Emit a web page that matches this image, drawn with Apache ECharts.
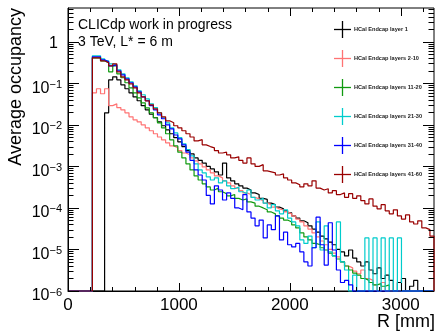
<!DOCTYPE html>
<html>
<head>
<meta charset="utf-8">
<script src="https://cdn.jsdelivr.net/npm/echarts@6/dist/echarts.min.js"></script>
<style>
  html, body { margin: 0; padding: 0; background: #fff; }
  #chart { width: 437px; height: 332px; }
</style>
</head>
<body>
<div id="chart"></div>
<script>
// Radial binning: 90 bins over 0..3300 mm; the arrays below start at bin 6 (R = 220 mm).
const rMax = 3300;
const nBins = 90;
const firstBin = 6;

const seriesNames = [
  'HCal Endcap layer 1',
  'HCal Endcap layers 2-10',
  'HCal Endcap layers 11-20',
  'HCal Endcap layers 21-30',
  'HCal Endcap layers 31-40',
  'HCal Endcap layers 41-60'
];
const seriesColors = ['#000000', '#ff7373', '#109a10', '#00cccc', '#0000ff', '#990000'];

// Average occupancy per bin (0 = empty bin)
const layer1 = [
  0, 0, 0, 0.0195, 0.121, 0.143, 0.121, 0.092, 0.074, 0.059,
  0.047, 0.038, 0.029, 0.023, 0.018, 0.0148, 0.0118, 9.5e-3, 7.6e-3, 6.1e-3,
  4.9e-3, 3.9e-3, 3.0e-3, 2.4e-3, 2.0e-3, 1.6e-3, 1.4e-3, 1.2e-3, 1.0e-3, 8.7e-4,
  7.4e-4, 6.2e-4, 1.2e-3, 5.3e-4, 4.5e-4, 3.8e-4, 3.4e-4, 3.0e-4, 2.7e-4, 2.3e-4,
  2.1e-4, 1.7e-4, 1.6e-4, 1.3e-4, 1.2e-4, 1.05e-4, 9.5e-5, 8.5e-5, 7.6e-5, 6.4e-5,
  5.7e-5, 4.9e-5, 4.4e-5, 3.7e-5, 3.1e-5, 2.6e-5, 2.1e-5, 1.8e-5, 1.5e-5, 1.3e-5,
  1.0e-5, 8.7e-6, 7.0e-6, 9.7e-6, 6.2e-6, 5.0e-6, 4.0e-6, 5.0e-6, 3.2e-6, 2.6e-6,
  3.6e-6, 2.0e-6, 2.4e-6, 1.8e-6, 0, 1.6e-6, 2.0e-6, 0, 1.3e-6, 1.8e-6,
  0, 0, 0, 0
];
const layers2to10 = [
  0.059, 0.074, 0.056, 0.074, 0.029, 0.032, 0.026, 0.023, 0.0195, 0.0156,
  0.0132, 0.0118, 0.0100, 8.5e-3, 7.2e-3, 6.1e-3, 5.1e-3, 4.35e-3, 3.7e-3, 3.1e-3,
  2.8e-3, 2.4e-3, 2.1e-3, 1.9e-3, 1.6e-3, 1.35e-3, 1.15e-3, 9.7e-4, 8.2e-4, 7.0e-4,
  5.9e-4, 5.3e-4, 4.5e-4, 4.0e-4, 3.4e-4, 3.0e-4, 2.6e-4, 2.3e-4, 2.1e-4, 1.8e-4,
  1.65e-4, 1.5e-4, 1.3e-4, 1.2e-4, 1.05e-4, 9.5e-5, 9.0e-5, 8.0e-5, 7.2e-5, 6.4e-5,
  5.4e-5, 4.6e-5, 3.7e-5, 3.1e-5, 2.5e-5, 2.0e-5, 1.6e-5, 1.3e-5, 1.0e-5, 8.2e-6,
  6.6e-6, 5.0e-6, 4.0e-6, 3.6e-6, 3.0e-6, 2.6e-6, 3.2e-6, 2.0e-6, 1.8e-6, 1.4e-6,
  0, 1.6e-6, 0, 0, 0, 0, 0, 0, 0, 0,
  0, 0, 0, 0
];
const layers11to20 = [
  0.411, 0.411, 0.348, 0.312, 0.189, 0.264, 0.169, 0.136, 0.103, 0.078,
  0.059, 0.0447, 0.0339, 0.0257, 0.0195, 0.0148, 0.0112, 8.5e-3, 6.1e-3, 4.35e-3,
  3.1e-3, 2.2e-3, 1.6e-3, 1.15e-3, 8.2e-4, 5.9e-4, 4.7e-4, 3.8e-4, 3.2e-4, 2.7e-4,
  3.0e-4, 2.45e-4, 2.2e-4, 1.95e-4, 2.1e-4, 1.7e-4, 1.55e-4, 1.65e-4, 1.4e-4, 1.3e-4,
  1.1e-4, 1.0e-4, 9.0e-5, 8.0e-5, 7.2e-5, 6.4e-5, 5.7e-5, 5.1e-5, 4.6e-5, 3.9e-5,
  3.3e-5, 2.5e-5, 2.0e-5, 1.7e-5, 1.4e-5, 1.3e-5, 1.1e-5, 9.7e-6, 8.2e-6, 7.0e-6,
  5.9e-6, 5.0e-6, 4.0e-6, 3.2e-6, 2.7e-6, 2.4e-6, 2.0e-6, 1.8e-6, 1.6e-6, 1.4e-6,
  1.5e-6, 1.3e-6, 1.4e-6, 0, 0, 0, 0, 0, 0, 0,
  0, 0, 0, 0
];
const layers21to30 = [
  0.46, 0.46, 0.389, 0.348, 0.295, 0.279, 0.212, 0.169, 0.136, 0.109,
  0.087, 0.066, 0.053, 0.042, 0.032, 0.026, 0.0195, 0.0148, 0.0112, 8.5e-3,
  6.4e-3, 4.9e-3, 3.5e-3, 2.55e-3, 1.8e-3, 1.15e-3, 8.2e-4, 7.0e-4, 5.6e-4, 4.7e-4,
  5.3e-4, 4.0e-4, 4.5e-4, 3.4e-4, 2.9e-4, 3.2e-4, 2.45e-4, 2.2e-4, 2.7e-4, 1.8e-4,
  1.55e-4, 1.7e-4, 1.3e-4, 1.0e-4, 1.2e-4, 8.5e-5, 7.2e-5, 9.0e-5, 5.7e-5, 4.6e-5,
  3.7e-5, 1.7e-5, 1.4e-5, 2.1e-5, 1.1e-5, 4.6e-5, 9.7e-6, 3.7e-5, 8.7e-6, 7.0e-6,
  4.6e-5, 5.0e-6, 3.2e-6, 0, 2.4e-6, 0, 0, 1.9e-5, 0, 1.9e-5,
  0, 1.9e-5, 0, 1.9e-5, 0, 1.9e-5, 0, 0, 0, 0,
  0, 0, 0, 0
];
const layers31to40 = [
  0.435, 0.435, 0.368, 0.330, 0.264, 0.279, 0.200, 0.160, 0.128, 0.103,
  0.082, 0.062, 0.047, 0.038, 0.029, 0.023, 0.0174, 0.0140, 0.0100, 8.0e-3,
  5.7e-3, 4.6e-3, 3.3e-3, 2.2e-3, 1.4e-3, 8.2e-4, 6.2e-4, 4.7e-4, 2.0e-4, 1.25e-4,
  3.4e-4, 2.7e-4, 1.55e-4, 2.3e-4, 1.7e-4, 1.0e-4, 9.0e-5, 2.1e-4, 8.0e-5, 5.7e-5,
  3.7e-5, 5.1e-5, 1.9e-5, 3.9e-5, 3.0e-5, 6.4e-5, 1.7e-5, 2.6e-5, 1.3e-5, 1.15e-5,
  1.4e-5, 8.7e-6, 5.0e-6, 4.0e-6, 1.1e-5, 6.0e-5, 1.3e-5, 4.2e-6, 4.4e-5, 9.7e-6,
  3.2e-6, 1.6e-6, 1.8e-6, 1.4e-6, 0, 0, 0, 0, 0, 0,
  0, 0, 0, 0, 0, 0, 0, 0, 0, 0,
  0, 0, 0, 0
];
const layers41to60 = [
  0.411, 0.411, 0.348, 0.312, 0.264, 0.295, 0.189, 0.143, 0.121, 0.0973,
  0.078, 0.059, 0.0473, 0.0379, 0.0303, 0.0243, 0.0195, 0.0156, 0.0125, 0.0112,
  9.5e-3, 8.5e-3, 7.2e-3, 6.1e-3, 5.1e-3, 4.1e-3, 4.4e-3, 3.3e-3, 3.0e-3, 2.8e-3,
  2.4e-3, 2.1e-3, 2.2e-3, 1.9e-3, 1.6e-3, 1.7e-3, 1.4e-3, 1.2e-3, 1.6e-3, 1.15e-3,
  1.0e-3, 1.1e-3, 7.8e-4, 7.4e-4, 7.0e-4, 6.2e-4, 6.6e-4, 5.3e-4, 4.7e-4, 4.0e-4,
  3.6e-4, 3.2e-4, 3.8e-4, 3.4e-4, 4.5e-4, 3.0e-4, 2.7e-4, 2.9e-4, 2.3e-4, 2.6e-4,
  2.1e-4, 2.3e-4, 1.8e-4, 2.2e-4, 1.7e-4, 1.95e-4, 1.5e-4, 1.25e-4, 1.65e-4, 1.1e-4,
  9.5e-5, 1.2e-4, 8.5e-5, 7.2e-5, 9.0e-5, 6.4e-5, 5.4e-5, 6.8e-5, 4.6e-5, 4.1e-5,
  4.9e-5, 3.3e-5, 3.0e-5, 2.1e-5
];
const seriesValues = [layer1, layers2to10, layers11to20, layers21to30, layers31to40, layers41to60];

const yMin = 1e-6, yMax = 6.5;
const xTickLabels = [0, 1000, 2000, 3000];

const binW = rMax / nBins;
const edge = (i) => i * binW;

// Histogram outline as step points at bin edges; empty bins sit on the frame floor
function histPoints(vals) {
  const pts = [[0, yMin]];
  vals.forEach((v, k) => pts.push([edge(firstBin + k), v > 0 ? v : yMin]));
  pts.push([edge(firstBin + vals.length), yMin]);
  return pts;
}

// Tick marks on all four frame sides, pointing inward
const tickItems = [];
for (let e = -6; e <= 0; e++) {
  const base = Math.pow(10, e);
  tickItems.push([0, base, 0, 11]);
  for (let k = 2; k <= 9; k++) {
    if (k * base < yMax) tickItems.push([0, k * base, 0, 5.5]);
  }
}
for (let r = 0; r <= rMax; r += 200) tickItems.push([r, 1, 1, r % 1000 === 0 ? 8 : 4]);

const chart = echarts.init(document.getElementById('chart'), null, { renderer: 'canvas' });

const font = '"Liberation Sans", Arial, Helvetica, sans-serif';

const lineSeries = seriesValues.map((vals, i) => ({
  name: seriesNames[i],
  type: 'line',
  step: 'end',
  data: histPoints(vals),
  showSymbol: false,
  clip: false,
  silent: true,
  z: 2 + i,
  lineStyle: { color: seriesColors[i], width: 1.2 },
  itemStyle: { color: seriesColors[i] }
}));

const tickSeries = {
  type: 'custom',
  silent: true,
  z: 20,
  clip: false,
  encode: { x: 0, y: 1 },
  data: tickItems,
  renderItem: (params, api) => {
    const kind = api.value(2), len = api.value(3);
    const st = { stroke: '#000', lineWidth: 1 };
    if (kind === 0) {
      const a = api.coord([0, api.value(1)]);
      const b = api.coord([rMax, api.value(1)]);
      const y = Math.round(a[1]) + 0.5;
      return { type: 'group', children: [
        { type: 'line', shape: { x1: a[0], y1: y, x2: a[0] + len, y2: y }, style: st },
        { type: 'line', shape: { x1: b[0], y1: y, x2: b[0] - len, y2: y }, style: st }
      ]};
    }
    const lo = api.coord([api.value(0), yMin]);
    const hi = api.coord([api.value(0), yMax]);
    const x = Math.round(lo[0]) + 0.5;
    return { type: 'group', children: [
      { type: 'line', shape: { x1: x, y1: lo[1], x2: x, y2: lo[1] - len }, style: st },
      { type: 'line', shape: { x1: x, y1: hi[1], x2: x, y2: hi[1] + len }, style: st }
    ]};
  }
};

// Legend: colored crosses with small bold labels
const legendGraphics = [];
seriesNames.forEach((name, i) => {
  const cy = 29.5 + 29 * i;
  legendGraphics.push(
    { type: 'line', shape: { x1: 334, y1: cy, x2: 351, y2: cy }, style: { stroke: seriesColors[i], lineWidth: 1.3 } },
    { type: 'line', shape: { x1: 342.5, y1: cy - 8.5, x2: 342.5, y2: cy + 8.5 }, style: { stroke: seriesColors[i], lineWidth: 1.3 } },
    { type: 'text', x: 354, y: cy, style: { text: name, font: 'bold 5.6px ' + font, fill: '#1a1a1a', align: 'left', verticalAlign: 'middle' } }
  );
});

chart.setOption({
  animation: false,
  backgroundColor: '#fff',
  grid: { left: 68, right: 2, top: 8, bottom: 41, show: true, borderColor: '#000', borderWidth: 1, backgroundColor: 'transparent' },
  xAxis: {
    type: 'value', min: 0, max: rMax, interval: 1000,
    axisLine: { show: true, lineStyle: { color: '#000', width: 1 } },
    axisTick: { show: false },
    splitLine: { show: false },
    axisLabel: {
      margin: 6, color: '#000', fontSize: 17, fontFamily: font,
      formatter: (v) => (xTickLabels.indexOf(v) >= 0 ? String(v) : '')
    }
  },
  yAxis: {
    type: 'log', logBase: 10, min: yMin, max: yMax, splitNumber: 7,
    axisLine: { show: true, lineStyle: { color: '#000', width: 1 } },
    axisTick: { show: false },
    splitLine: { show: false },
    axisLabel: {
      margin: 6, color: '#000', fontFamily: font, padding: [10, 0, 0, 0],
      formatter: (v) => {
        const e = Math.log10(v), r = Math.round(e);
        if (Math.abs(e - r) > 1e-6) return '';
        if (r === 0) return '{one|1}';
        return '{b|10}{s|\u2212' + (-r) + '}';
      },
      rich: {
        b: { fontSize: 16, fontFamily: font, color: '#000', lineHeight: 18 },
        s: { fontSize: 11, fontFamily: font, color: '#000', verticalAlign: 'top', lineHeight: 12 },
        one: { fontSize: 16, fontFamily: font, color: '#000', padding: [0, 4, 6, 0], lineHeight: 18 }
      }
    }
  },
  graphic: [
    { type: 'text', x: 78, y: 25, style: { text: 'CLICdp work in progress', font: '14px ' + font, fill: '#000', align: 'left', verticalAlign: 'middle' } },
    { type: 'text', x: 78, y: 42, style: { text: '3 TeV, L* = 6 m', font: '14px ' + font, fill: '#000', align: 'left', verticalAlign: 'middle' } },
    { type: 'text', x: 16, y: 8, rotation: Math.PI / 2, style: { text: 'Average occupancy', font: '18px ' + font, fill: '#000', align: 'right', verticalAlign: 'middle' } },
    { type: 'text', x: 435, y: 322, style: { text: 'R [mm]', font: '18px ' + font, fill: '#000', align: 'right', verticalAlign: 'middle' } }
  ].concat(legendGraphics),
  series: lineSeries.concat([tickSeries])
});
</script>
</body>
</html>
